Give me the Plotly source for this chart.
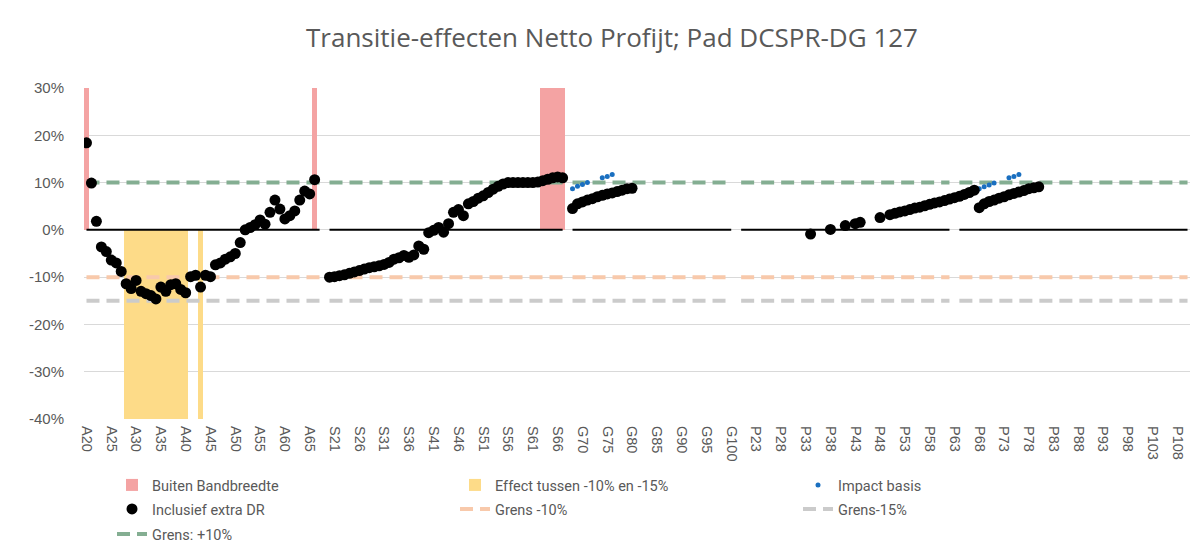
import plotly.graph_objects as go

# ---------------- categories / tick labels ----------------
A_CATS = [f"A{n}" for n in range(20, 69)]    # A20..A68
S_CATS = [f"S{n}" for n in range(20, 69)]    # S20..S68
G_CATS = [f"G{n}" for n in range(68, 101)]   # G68..G100
P_CATS = [f"P{n}" for n in range(19, 111)]   # P19..P110
categories = A_CATS + S_CATS + G_CATS + P_CATS
tick_labels = categories[::5]
gap_categories = ["A68", "S68", "P19", "P63"]

y_tick_vals = [-0.4, -0.3, -0.2, -0.1, 0.0, 0.1, 0.2, 0.3]
y_tick_text = ["-40%", "-30%", "-20%", "-10%", "0%", "10%", "20%", "30%"]

# ---------------- bars ----------------
buiten_cats = ["A20", "A66", "S63", "S64", "S65", "S66", "S67"]
buiten_vals = [0.30, 0.30, 0.30, 0.30, 0.30, 0.30, 0.30]
effect_cats = ["A28", "A29", "A30", "A31", "A32", "A33", "A34", "A35", "A36",
               "A37", "A38", "A39", "A40", "A43"]
effect_vals = [-0.40] * 14

# ---------------- Inclusief extra DR (percent) ----------------
incl_A_cats = A_CATS[0:47]
incl_A = [18.4, 9.9, 1.8, -3.6, -4.6, -6.4, -7.0, -8.8, -11.4, -12.4,
          -10.7, -13.0, -13.5, -13.9, -14.6, -12.1, -13.0, -11.6, -11.4, -12.6,
          -13.3, -9.9, -9.6, -12.1, -9.6, -9.9, -7.4, -7.0, -6.2, -5.7,
          -5.0, -2.7, 0.0, 0.5, 1.1, 2.1, 1.2, 3.7, 6.3, 4.4,
          2.3, 3.0, 4.0, 6.3, 8.2, 7.6, 10.6]
incl_S_cats = S_CATS[0:48]
incl_S = [-10.0, -9.9, -9.7, -9.5, -9.2, -8.9, -8.6, -8.3, -8.0, -7.8,
          -7.6, -7.3, -6.9, -6.2, -5.9, -5.4, -5.8, -5.3, -3.4, -4.1,
          -0.6, -0.1, 0.5, -0.5, 1.3, 3.7, 4.3, 3.0, 5.5, 6.0,
          6.7, 7.2, 7.9, 8.6, 9.2, 9.7, 10.0, 10.0, 10.0, 10.0,
          10.0, 10.0, 10.1, 10.4, 10.7, 11.0, 11.2, 11.0]
incl_G_cats = G_CATS[0:13]
incl_G = [4.5, 5.5, 5.9, 6.3, 6.6, 7.0, 7.3, 7.6, 7.8, 8.1, 8.4, 8.7, 8.8]
incl_P_cats = ["P34", "P38", "P41", "P43", "P44", "P48"] + [f"P{n}" for n in range(50, 81)]
incl_P = [-0.9, 0.1, 0.9, 1.3, 1.6, 2.6,
          3.2, 3.5, 3.8, 4.0, 4.3, 4.6, 4.8, 5.1, 5.4, 5.7,
          5.9, 6.2, 6.5, 6.8, 7.1, 7.5, 7.9, 8.4,
          4.7, 5.5, 6.0, 6.3, 6.7, 7.0, 7.4, 7.7, 8.0, 8.3, 8.7, 8.9, 9.1]

# ---------------- Impact basis (percent, where visible) ----------------
impact_cats = ["G68", "G69", "G70", "G71", "G74", "G75", "G76",
               "P68", "P69", "P70", "P71", "P74", "P75", "P76"]
impact_vals = [8.7, 9.2, 9.6, 10.0, 11.0, 11.3, 11.7,
               8.7, 9.1, 9.5, 9.9, 11.0, 11.3, 11.7]

# ---------------- limit lines ----------------
zero_level = 0.0
grens_min10 = -0.10
grens_min15 = -0.15
grens_plus10 = 0.10


def level_series(level):
    return [None if c in gap_categories else level for c in categories]


incl_x = incl_A_cats + incl_S_cats + incl_G_cats + incl_P_cats
incl_y = [v / 100 for v in incl_A + incl_S + incl_G + incl_P]

GREY_TXT = "#595959"
W, H = 1195, 544   # page body adds an 8px margin around the figure

fig = go.Figure()

fig.add_trace(go.Bar(x=buiten_cats, y=buiten_vals, name="Buiten Bandbreedte",
                     marker=dict(color="#F4A3A3", line=dict(width=0)),
                     legend="legend", legendrank=1))
fig.add_trace(go.Bar(x=effect_cats, y=effect_vals, name="Effect tussen -10% en -15%",
                     marker=dict(color="#FDDB88", line=dict(width=0)),
                     legend="legend", legendrank=2))

fig.add_trace(go.Scatter(x=categories, y=level_series(zero_level), mode="lines",
                         line=dict(color="black", width=2), showlegend=False,
                         hoverinfo="skip"))
dash = "13px,7px"
fig.add_trace(go.Scatter(x=categories, y=level_series(grens_min10), mode="lines",
                         name="Grens -10%", line=dict(color="#F8C9AB", width=4, dash=dash),
                         legend="legend2", legendrank=5))
fig.add_trace(go.Scatter(x=categories, y=level_series(grens_min15), mode="lines",
                         name="Grens-15%", line=dict(color="#CBCBCB", width=4, dash=dash),
                         legend="legend2", legendrank=6))
fig.add_trace(go.Scatter(x=categories, y=level_series(grens_plus10), mode="lines",
                         name="Grens: +10%", line=dict(color="#84AE92", width=4, dash=dash),
                         legend="legend3", legendrank=7))
fig.add_trace(go.Scatter(x=impact_cats, y=[v / 100 for v in impact_vals], mode="markers",
                         name="Impact basis", marker=dict(color="#1A6FC0", size=5),
                         legend="legend", legendrank=3))
fig.add_trace(go.Scatter(x=incl_x, y=incl_y, mode="markers", name="Inclusief extra DR",
                         marker=dict(color="black", size=11),
                         legend="legend2", legendrank=4))

legend_font = dict(family="Roboto", size=14.5, color=GREY_TXT)


def legend_row(y_px):
    return dict(orientation="h", xref="container", yref="container",
                x=104 / W, xanchor="left", y=1 - y_px / H, yanchor="middle",
                entrywidth=298, entrywidthmode="pixels", traceorder="normal",
                font=legend_font, bgcolor="rgba(0,0,0,0)")


fig.update_layout(
    width=W, height=H,
    paper_bgcolor="white", plot_bgcolor="white",
    margin=dict(l=76, r=13, t=80, b=133, autoexpand=False),
    barmode="overlay", bargap=0,
    title=dict(text="Transitie-effecten Netto Profijt; Pad DCSPR-DG 127",
               x=604 / W, xanchor="center", xref="container",
               y=1 - 30 / H, yanchor="middle", yref="container",
               font=dict(family="Open Sans", size=26, color=GREY_TXT)),
    showlegend=True,
    legend=legend_row(477),
    legend2=legend_row(501),
    legend3=legend_row(526),
    font=dict(family="Liberation Sans, Arial", color=GREY_TXT),
)
fig.update_xaxes(type="category", categoryorder="array", categoryarray=categories,
                 range=[-0.5, len(categories) - 0.5], automargin=False,
                 tickmode="array", tickvals=tick_labels, ticktext=tick_labels,
                 tickangle=90, tickfont=dict(size=14.5, color=GREY_TXT),
                 ticklabelstandoff=6,
                 showgrid=False, showline=False, ticks="", zeroline=False)
fig.update_yaxes(range=[-0.4, 0.3], tickmode="array", tickvals=y_tick_vals,
                 ticktext=y_tick_text, tickfont=dict(size=15, color=GREY_TXT),
                 automargin=False,
                 showgrid=True, gridcolor="#D9D9D9", gridwidth=1, zeroline=False,
                 showline=False, ticks="", ticklabelstandoff=19)

fig.write_html("out.html")
